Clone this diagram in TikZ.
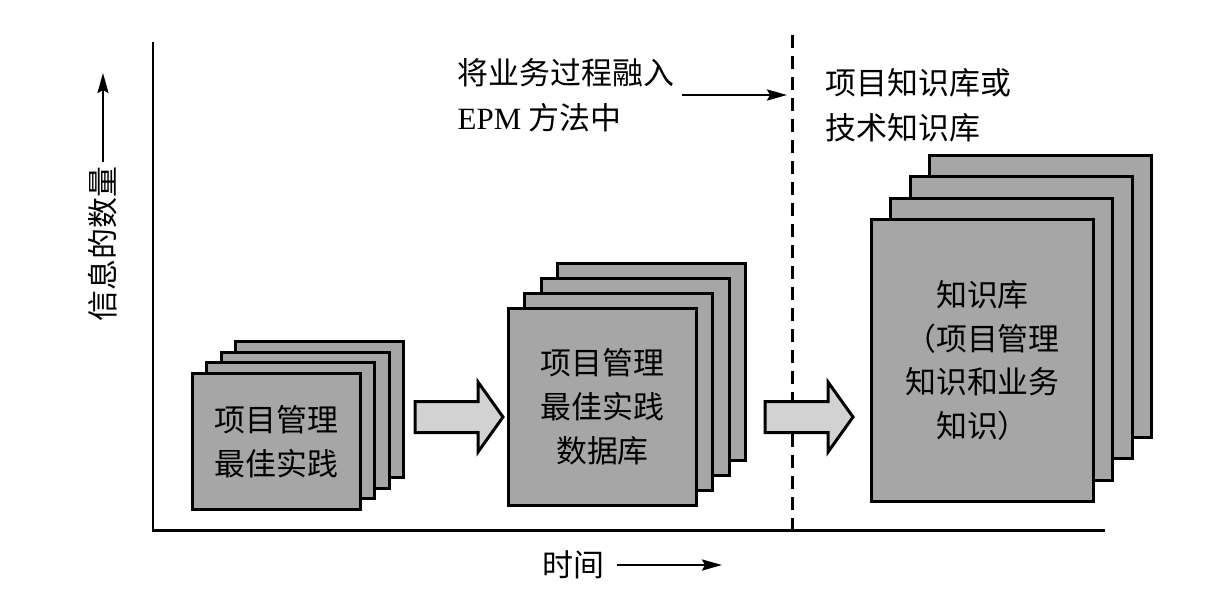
\documentclass[tikz,border=0pt]{standalone}
\usepackage{fontspec}
\setmainfont{Noto Sans CJK SC}
\newfontfamily\latinfont{Liberation Serif}
\usetikzlibrary{arrows.meta}
\definecolor{pagegray}{HTML}{A6A6A6}
\definecolor{arrowgray}{HTML}{D2D2D2}
\tikzset{
  page/.style={draw, line width=0.85pt, fill=pagegray, anchor=north west, inner sep=0pt,
    align=center, font=\fontsize{8.8}{12.5}\selectfont},
  lbl/.style={inner sep=0.4mm, font=\fontsize{8.8}{12.7}\selectfont},
  thinarrow/.style={line width=0.7pt, -{Stealth[length=2mm, width=1.1mm, inset=0.3mm]}},
  blockarrow/.style={draw, line width=0.85pt, fill=arrowgray},
}
\begin{document}
\begin{tikzpicture}[x=0.1mm, y=-0.1mm]
  \useasboundingbox (0,0) rectangle (1218,614);
  \def\BA{++(0,-15.5) -- ++(63,0) -- ++(0,-19.5) -- ++(25,35) -- ++(-25,35) -- ++(0,-19.5) -- ++(-63,0) -- cycle}

  %A: Axes and divider
  \coordinate (ytop) at (153,42);
  \coordinate (xend) at (1105,530);
  \draw[line width=0.85pt] (ytop) |- (xend);
  \coordinate (dtop) at (792,35);
  \coordinate (dbot) at (792,530);
  \draw[line width=0.85pt, dash pattern=on 1.3mm off 0.8mm] (dtop) -- (dbot);

  %A: Stack of best practices
  \foreach \i in {3,2,1}
    \node[page, minimum width=16.8mm, minimum height=13.6mm] (bp\i) at ({191+14.3*\i},{372-10.7*\i}) {};
  \node[page, minimum width=16.8mm, minimum height=13.6mm] (bp) at (191,372) {项目管理\\最佳实践};

  %A: Stack of best practice database
  \foreach \i in {3,2,1}
    \node[page, minimum width=18.8mm, minimum height=19.7mm] (db\i) at ({507+16.3*\i},{307-15*\i}) {};
  \node[page, minimum width=18.8mm, minimum height=19.7mm] (db) at (507,307) {项目管理\\最佳实践\\数据库};

  %A: Stack of knowledge base
  \foreach \i in {3,2,1}
    \node[page, minimum width=22.2mm, minimum height=28.2mm] (kb\i) at ({870+19.3*\i},{218-21.3*\i}) {};
  \node[page, minimum width=22.2mm, minimum height=28.2mm, text width=17mm] (kb) at (870,218)
    {知识库\\（项目管理\\知识和业务\\知识）};

  %A: Block arrows
  \coordinate (arrA) at (415,417);
  \coordinate (arrB) at (765,417);
  \draw[blockarrow] (arrA) \BA;
  \draw[blockarrow] (arrB) \BA;

  %A: Labels
  \node[lbl, anchor=west, align=left] (merge) at (453,95) {将业务过程融入\\{\latinfont EPM} 方法中};
  \draw[thinarrow] ([xshift=0.3mm]merge.east) -- ([xshift=-0.5mm]merge.east -| dtop);
  \node[lbl, anchor=west, align=left] (kbtitle) at (821,105) {项目知识库或\\技术知识库};

  \node[lbl, rotate=90] (qty) at (103,244) {信息的数量};
  \coordinate (yarrow) at (101,73);
  \draw[thinarrow] (qty.east) -- (qty.east |- yarrow);

  \node[lbl] (time) at (573,565) {时间};
  \coordinate (tarrow) at (722,563);
  \draw[thinarrow] ([xshift=0.8mm]time.east) -- (time.east -| tarrow);
\end{tikzpicture}
\end{document}
